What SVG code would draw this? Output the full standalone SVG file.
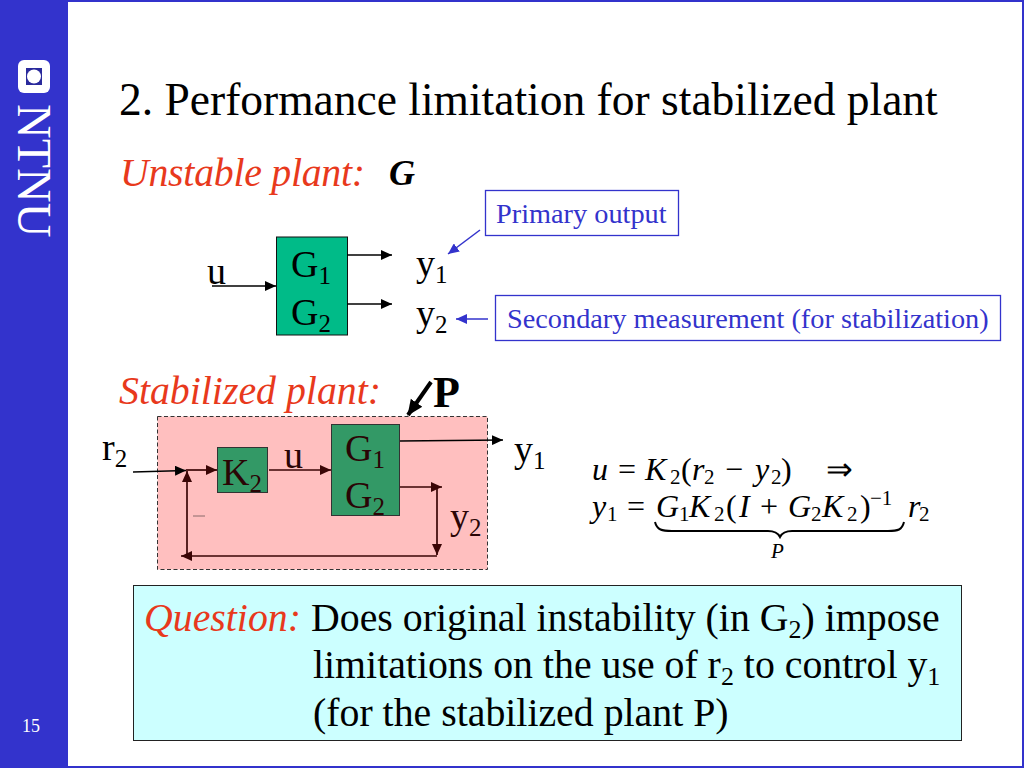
<svg xmlns="http://www.w3.org/2000/svg" width="1024" height="768" viewBox="0 0 1024 768">
<style>
text{font-family:"Liberation Serif","Times New Roman",serif;fill:#000}
.t36{font-size:38px}
.b40{font-size:39.800px}
.red{fill:#e8391c;font-style:italic;font-size:39.800px}
.blue{fill:#3333cc;font-size:28.300px}
.mi{font-size:32px;font-style:italic}
.mr{font-size:32px}
.ms{font-size:21px}
.lb{fill:none;stroke:#3333cc;stroke-width:1.3}
.k{fill:none;stroke:#000;stroke-width:1.5}
.d{fill:none;stroke:#3a0505;stroke-width:1.7}
</style>
<defs>
<marker id="ak" markerUnits="userSpaceOnUse" markerWidth="12" markerHeight="10" refX="11" refY="5" orient="auto"><path d="M0 0L11 5L0 10z" fill="#000"/></marker>
<marker id="ad" markerUnits="userSpaceOnUse" markerWidth="12" markerHeight="10" refX="11" refY="5" orient="auto"><path d="M0 0L11 5L0 10z" fill="#3a0505"/></marker>
<marker id="ab" markerUnits="userSpaceOnUse" markerWidth="12" markerHeight="10" refX="11" refY="5" orient="auto"><path d="M0 0L11 5L0 10z" fill="#3333cc"/></marker>
<marker id="ap" markerUnits="userSpaceOnUse" markerWidth="18" markerHeight="16" refX="15" refY="8" orient="auto"><path d="M0 1L16 8L0 15z" fill="#000"/></marker>
</defs>
<rect width="1024" height="768" fill="#fff"/>
<g id="frame">
<rect x="0" y="0" width="68" height="768" fill="#3333cc"/>
<path d="M0 1H1023V767H0" fill="none" stroke="#3333cc" stroke-width="2"/>
<rect x="18" y="60" width="32" height="33" rx="6" fill="#fff"/>
<rect x="26" y="68" width="16" height="17" fill="#2a2a9c"/>
<circle cx="34" cy="76.500" r="7" fill="#fff"/>
<text transform="translate(18 104) rotate(90)" font-size="48" style="fill:#fff">NTNU</text>
<text x="22" y="732" font-size="18" style="fill:#fff">15</text>
</g>
<text x="119" y="115" font-size="45.500">2. Performance limitation for stabilized plant</text>
<text x="120" y="186" class="red" textLength="245">Unstable plant:</text>
<text x="389" y="185" font-size="36" font-style="italic" font-weight="bold">G</text>

<g id="plant-block">
<rect x="276.500" y="237" width="71" height="98" fill="#00bb88" stroke="#111" stroke-width="1"/>
<text x="291" y="277" class="t36">G<tspan font-size="25" dy="7">1</tspan></text>
<text x="291" y="325" class="t36">G<tspan font-size="25" dy="7">2</tspan></text>
</g>
<g id="labels-top">
<text x="207" y="284" class="t36">u</text>
<text x="416" y="276" class="t36">y<tspan font-size="25" dy="7">1</tspan></text>
<text x="416" y="326" class="t36">y<tspan font-size="25" dy="7">2</tspan></text>
</g>
<g id="primary-output">
<rect x="485.500" y="190.500" width="193" height="45" class="lb"/>
<text x="496" y="223" class="blue">Primary output</text>
</g>
<g id="secondary-measurement">
<rect x="495.500" y="295.500" width="505" height="45" class="lb"/>
<text x="507" y="328" class="blue">Secondary measurement (for stabilization)</text>
</g>

<g id="connectors">
<path d="M212 286H276" class="k" marker-end="url(#ak)"/>
<path d="M347 255H392" class="k" marker-end="url(#ak)"/>
<path d="M347 304H392" class="k" marker-end="url(#ak)"/>
<path d="M480 230L448 254" fill="none" stroke="#3333cc" stroke-width="1.500" marker-end="url(#ab)"/>
<path d="M488 319H456" fill="none" stroke="#3333cc" stroke-width="1.500" marker-end="url(#ab)"/>
<path d="M431 382L408 415" fill="none" stroke="#000" stroke-width="4" marker-end="url(#ap)"/>
</g>

<text x="119" y="404" class="red">Stabilized plant:</text>
<text x="433" y="407" font-size="44" font-weight="bold">P</text>

<g id="stabilized-plant">
<rect x="157.500" y="416.500" width="330" height="153" fill="#ffbfbf" stroke="#333" stroke-width="1" stroke-dasharray="4 2.500"/>
</g>
<g id="k2-block">
<rect x="217.500" y="447.500" width="50" height="45" fill="#339966" stroke="#333" stroke-width="1"/>
<text x="222" y="485" class="t36" style="fill:#2a0505">K<tspan font-size="25" dy="7">2</tspan></text>
</g>
<g id="g-block">
<rect x="331.500" y="424.500" width="68" height="91" fill="#339966" stroke="#333" stroke-width="1"/>
<text x="345" y="461" class="t36" style="fill:#2a0505">G<tspan font-size="25" dy="7">1</tspan></text>
<text x="345" y="508" class="t36" style="fill:#2a0505">G<tspan font-size="25" dy="7">2</tspan></text>
</g>
<g id="connectors-2">
<path d="M133 472L186 470.500" class="k" marker-end="url(#ak)"/>
<path d="M186 470H217" class="d" marker-end="url(#ad)"/>
<path d="M269 470H331" class="d" marker-end="url(#ad)"/>
<path d="M400 441L503 440" class="k" marker-end="url(#ak)"/>
<path d="M400 487H442" class="d" marker-end="url(#ad)"/>
<path d="M437 487V555" class="d" marker-end="url(#ad)"/>
<path d="M437 556H181" class="d" marker-end="url(#ad)"/>
<path d="M187 556V471" class="d" marker-end="url(#ad)"/>
</g>
<g id="labels-bottom">
<text x="102" y="460" class="t36">r<tspan font-size="25" dy="7">2</tspan></text>
<text x="284" y="468" class="t36" style="fill:#2a0505">u</text>
<text x="514" y="462" class="t36">y<tspan font-size="25" dy="7">1</tspan></text>
<text x="450" y="529" class="t36" style="fill:#2a0505">y<tspan font-size="25" dy="7">2</tspan></text>
<path d="M193 516H205" stroke="#8a6a6a" stroke-width="1" fill="none"/>
</g>

<g id="equation">
<text x="592" y="480" class="mi">u</text><text x="618" y="480" class="mr">=</text>
<text x="645" y="480" class="mi">K</text><text x="670" y="484" class="ms">2</text>
<text x="681" y="480" class="mr">(</text><text x="692" y="480" class="mi">r</text>
<text x="704" y="484" class="ms">2</text>
<text x="725" y="480" class="mr">−</text>
<text x="755" y="480" class="mi">y</text><text x="771" y="484" class="ms">2</text>
<text x="781" y="480" class="mr">)</text>
<text x="826" y="480" class="mr">⇒</text>
<text x="592" y="517" class="mi">y</text><text x="607" y="521" class="ms">1</text>
<text x="627" y="517" class="mr">=</text>
<text x="656" y="517" class="mi">G</text><text x="679" y="521" class="ms">1</text>
<text x="689" y="517" class="mi">K</text><text x="714" y="521" class="ms">2</text>
<text x="726" y="517" class="mr">(</text><text x="739" y="517" class="mi">I</text>
<text x="760" y="517" class="mr">+</text>
<text x="788" y="517" class="mi">G</text><text x="811" y="521" class="ms">2</text>
<text x="822" y="517" class="mi">K</text><text x="847" y="521" class="ms">2</text>
<text x="860" y="517" class="mr">)</text>
<text x="870" y="505" class="ms">−1</text>
<text x="908" y="517" class="mi">r</text><text x="919" y="521" class="ms">2</text>
<path d="M655 522C657 530 662 531 672 531H768C775 531 778 533 780 537C782 533 785 531 792 531H888C898 531 902 530 904 522" fill="none" stroke="#000" stroke-width="2"/>
<text x="771" y="558" font-size="21" font-style="italic">P</text>
</g>

<g id="question">
<rect x="133.500" y="585.500" width="828" height="155" fill="#ccffff" stroke="#222" stroke-width="1"/>
<text x="144" y="631" class="red">Question:</text>
<text x="311" y="631" class="b40">Does original instability (in G<tspan font-size="26" dy="7">2</tspan><tspan dy="-7">) impose</tspan></text>
<text x="313" y="678" class="b40">limitations on the use of r<tspan font-size="26" dy="7">2</tspan><tspan dy="-7"> to control y</tspan><tspan font-size="26" dy="7">1</tspan></text>
<text x="313" y="726" class="b40">(for the stabilized plant P)</text>
</g>
</svg>
